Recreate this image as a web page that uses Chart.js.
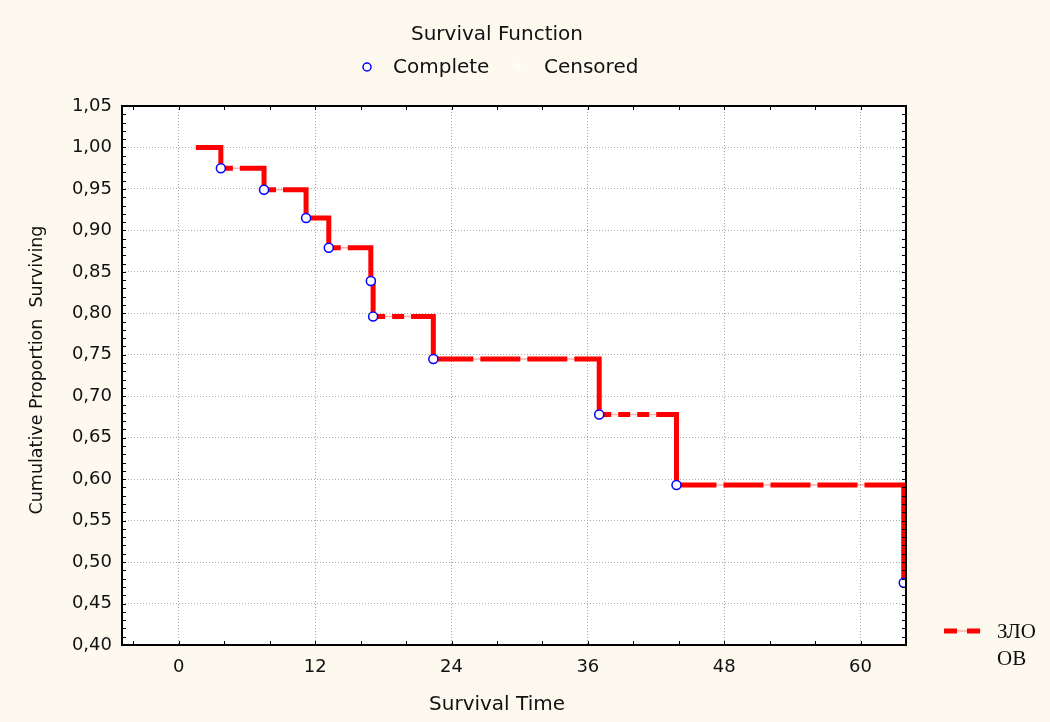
<!DOCTYPE html>
<html lang="en">
<head>
<meta charset="UTF-8" />
<title>Survival Function</title>
<script src="https://cdn.jsdelivr.net/npm/chart.js@4.4.1/dist/chart.umd.min.js"></script>
<style>
  html, body { margin: 0; padding: 0; background: #fdf9ef; }
  .wrap { width: 1050px; height: 722px; position: relative; }
</style>
</head>
<body>
<div class="wrap"><canvas id="km"></canvas></div>
<script>
// Kaplan-Meier estimate, group "ЗЛО ОВ"
const startTime = 1.5;
const eventTimes = [3.7, 7.5, 11.2, 13.2, 16.9, 17.1, 22.4, 37.0, 43.8, 63.8];
const survival = [0.975, 0.949, 0.915, 0.879, 0.839, 0.796, 0.745, 0.678, 0.593, 0.475];
const xTicks = [0, 12, 24, 36, 48, 60];
const yTicks = [0.40, 0.45, 0.50, 0.55, 0.60, 0.65, 0.70, 0.75, 0.80, 0.85, 0.90, 0.95, 1.00, 1.05];

const RED = "#ff0000";
const BLUE = "#0000ff";
const BG = "#fdf9ef";

const events = eventTimes.map((t, i) => ({ x: t, y: survival[i] }));
const curve = [{ x: startTime, y: 1.0 }].concat(events);

Chart.defaults.font.family = "'DejaVu Sans', sans-serif";
Chart.defaults.color = "#111";

// dashes only on the horizontal run of each step, drops stay solid
function stepDash(c) {
  const h = Math.abs(c.p1.x - c.p0.x);
  const v = Math.abs(c.p1.y - c.p0.y);
  const D = h < 80 ? 12 : 40, G = 7;
  const pattern = [];
  let used = 0;
  while (used + D + G < h - 8) {
    pattern.push(D, G);
    used += D + G;
  }
  pattern.push(h - used + v + 20, 0);
  return pattern;
}

// background, frame, inner minor ticks, titles and both legends
const decor = {
  id: "decor",
  beforeDraw(chart) {
    const { ctx, chartArea: a } = chart;
    ctx.save();
    ctx.fillStyle = BG;
    ctx.fillRect(0, 0, chart.width, chart.height);
    ctx.fillStyle = "#fff";
    ctx.fillRect(a.left, a.top, a.right - a.left, a.bottom - a.top);
    ctx.restore();
  },
  afterDraw(chart) {
    const { ctx, chartArea: a } = chart;
    const xs = chart.scales.x, ys = chart.scales.y;
    ctx.save();

    // minor ticks pointing inward
    ctx.strokeStyle = "#000";
    ctx.lineWidth = 1;
    ctx.beginPath();
    for (let v = -4; v <= 64; v += 4) {
      const px = Math.round(xs.getPixelForValue(v)) + 0.5;
      ctx.moveTo(px, a.bottom); ctx.lineTo(px, a.bottom - 4);
      ctx.moveTo(px, a.top); ctx.lineTo(px, a.top + 4);
    }
    for (let k = 40; k <= 105; k++) {
      const py = Math.round(ys.getPixelForValue(k / 100)) + 0.5;
      ctx.moveTo(a.left, py); ctx.lineTo(a.left + 4, py);
      ctx.moveTo(a.right, py); ctx.lineTo(a.right - 4, py);
    }
    ctx.stroke();

    // frame
    ctx.lineWidth = 2;
    ctx.strokeRect(a.left, a.top, a.right - a.left, a.bottom - a.top);

    // titles
    ctx.fillStyle = "#111";
    ctx.textAlign = "center";
    ctx.textBaseline = "middle";
    ctx.font = "20px 'DejaVu Sans'";
    ctx.fillText("Survival Function", 497, 35);
    ctx.fillText("Survival Time", 497, 705);
    ctx.save();
    ctx.translate(37, 370);
    ctx.rotate(-Math.PI / 2);
    ctx.font = "17.5px 'DejaVu Sans'";
    ctx.fillText("Cumulative Proportion  Surviving", 0, 0);
    ctx.restore();

    // top legend
    ctx.textAlign = "left";
    ctx.beginPath();
    ctx.arc(367, 67, 4, 0, Math.PI * 2);
    ctx.fillStyle = "#fff";
    ctx.fill();
    ctx.strokeStyle = BLUE;
    ctx.lineWidth = 1.5;
    ctx.stroke();
    ctx.fillStyle = "#111";
    ctx.fillText("Complete", 393, 68);
    ctx.strokeStyle = "#fff";
    ctx.lineWidth = 2;
    ctx.beginPath();
    ctx.moveTo(514, 66); ctx.lineTo(522, 66);
    ctx.moveTo(518, 62); ctx.lineTo(518, 70);
    ctx.stroke();
    ctx.fillText("Censored", 544, 68);

    // group legend
    ctx.strokeStyle = "rgba(255,0,0,0.3)";
    ctx.lineWidth = 1.5;
    ctx.beginPath();
    ctx.moveTo(944, 631); ctx.lineTo(981, 631);
    ctx.stroke();
    ctx.strokeStyle = RED;
    ctx.lineWidth = 5;
    ctx.setLineDash([13, 10]);
    ctx.beginPath();
    ctx.moveTo(944, 631); ctx.lineTo(981, 631);
    ctx.stroke();
    ctx.setLineDash([]);
    ctx.font = "21px 'Liberation Serif'";
    ctx.textBaseline = "alphabetic";
    ctx.fillText("ЗЛО", 997, 638);
    ctx.fillText("ОВ", 997, 665);
    ctx.restore();
  }
};

new Chart(document.getElementById("km"), {
  type: "line",
  data: {
    datasets: [
      {
        label: "Complete",
        data: events,
        showLine: false,
        pointRadius: 4.5,
        pointBorderWidth: 1.5,
        pointBorderColor: BLUE,
        pointBackgroundColor: "#fff",
        order: 0
      },
      {
        label: "ЗЛО ОВ",
        data: curve,
        stepped: "before",
        borderColor: RED,
        borderWidth: 5,
        borderCapStyle: "butt",
        borderJoinStyle: "miter",
        segment: { borderDash: stepDash },
        pointRadius: 0,
        fill: false,
        order: 1
      },
      {
        label: "gap tint",
        data: curve,
        stepped: "before",
        borderColor: "rgba(255,0,0,0.3)",
        borderWidth: 1.5,
        pointRadius: 0,
        fill: false,
        order: 2
      }
    ]
  },
  options: {
    responsive: true,
    maintainAspectRatio: false,
    animation: false,
    events: [],
    layout: { padding: { top: 106, right: 144, bottom: 0, left: 0 } },
    plugins: { legend: { display: false }, tooltip: { enabled: false } },
    scales: {
      x: {
        type: "linear",
        min: -5,
        max: 64,
        afterBuildTicks: (s) => { s.ticks = xTicks.map((v) => ({ value: v })); },
        afterFit: (s) => { s.height = 77; },
        grid: { color: "#aaa", lineWidth: 1, drawTicks: false },
        border: { display: false, dash: [1, 2] },
        ticks: { padding: 12, font: { size: 18 }, color: "#111" }
      },
      y: {
        min: 0.40,
        max: 1.05,
        afterBuildTicks: (s) => { s.ticks = yTicks.map((v) => ({ value: v })); },
        afterFit: (s) => { s.width = 122; },
        grid: { color: "#aaa", lineWidth: 1, drawTicks: false },
        border: { display: false, dash: [1, 2] },
        ticks: {
          padding: 10,
          font: { size: 18 },
          color: "#111",
          callback: (v) => v.toFixed(2).replace(".", ",")
        }
      }
    }
  },
  plugins: [decor]
});
</script>
</body>
</html>
